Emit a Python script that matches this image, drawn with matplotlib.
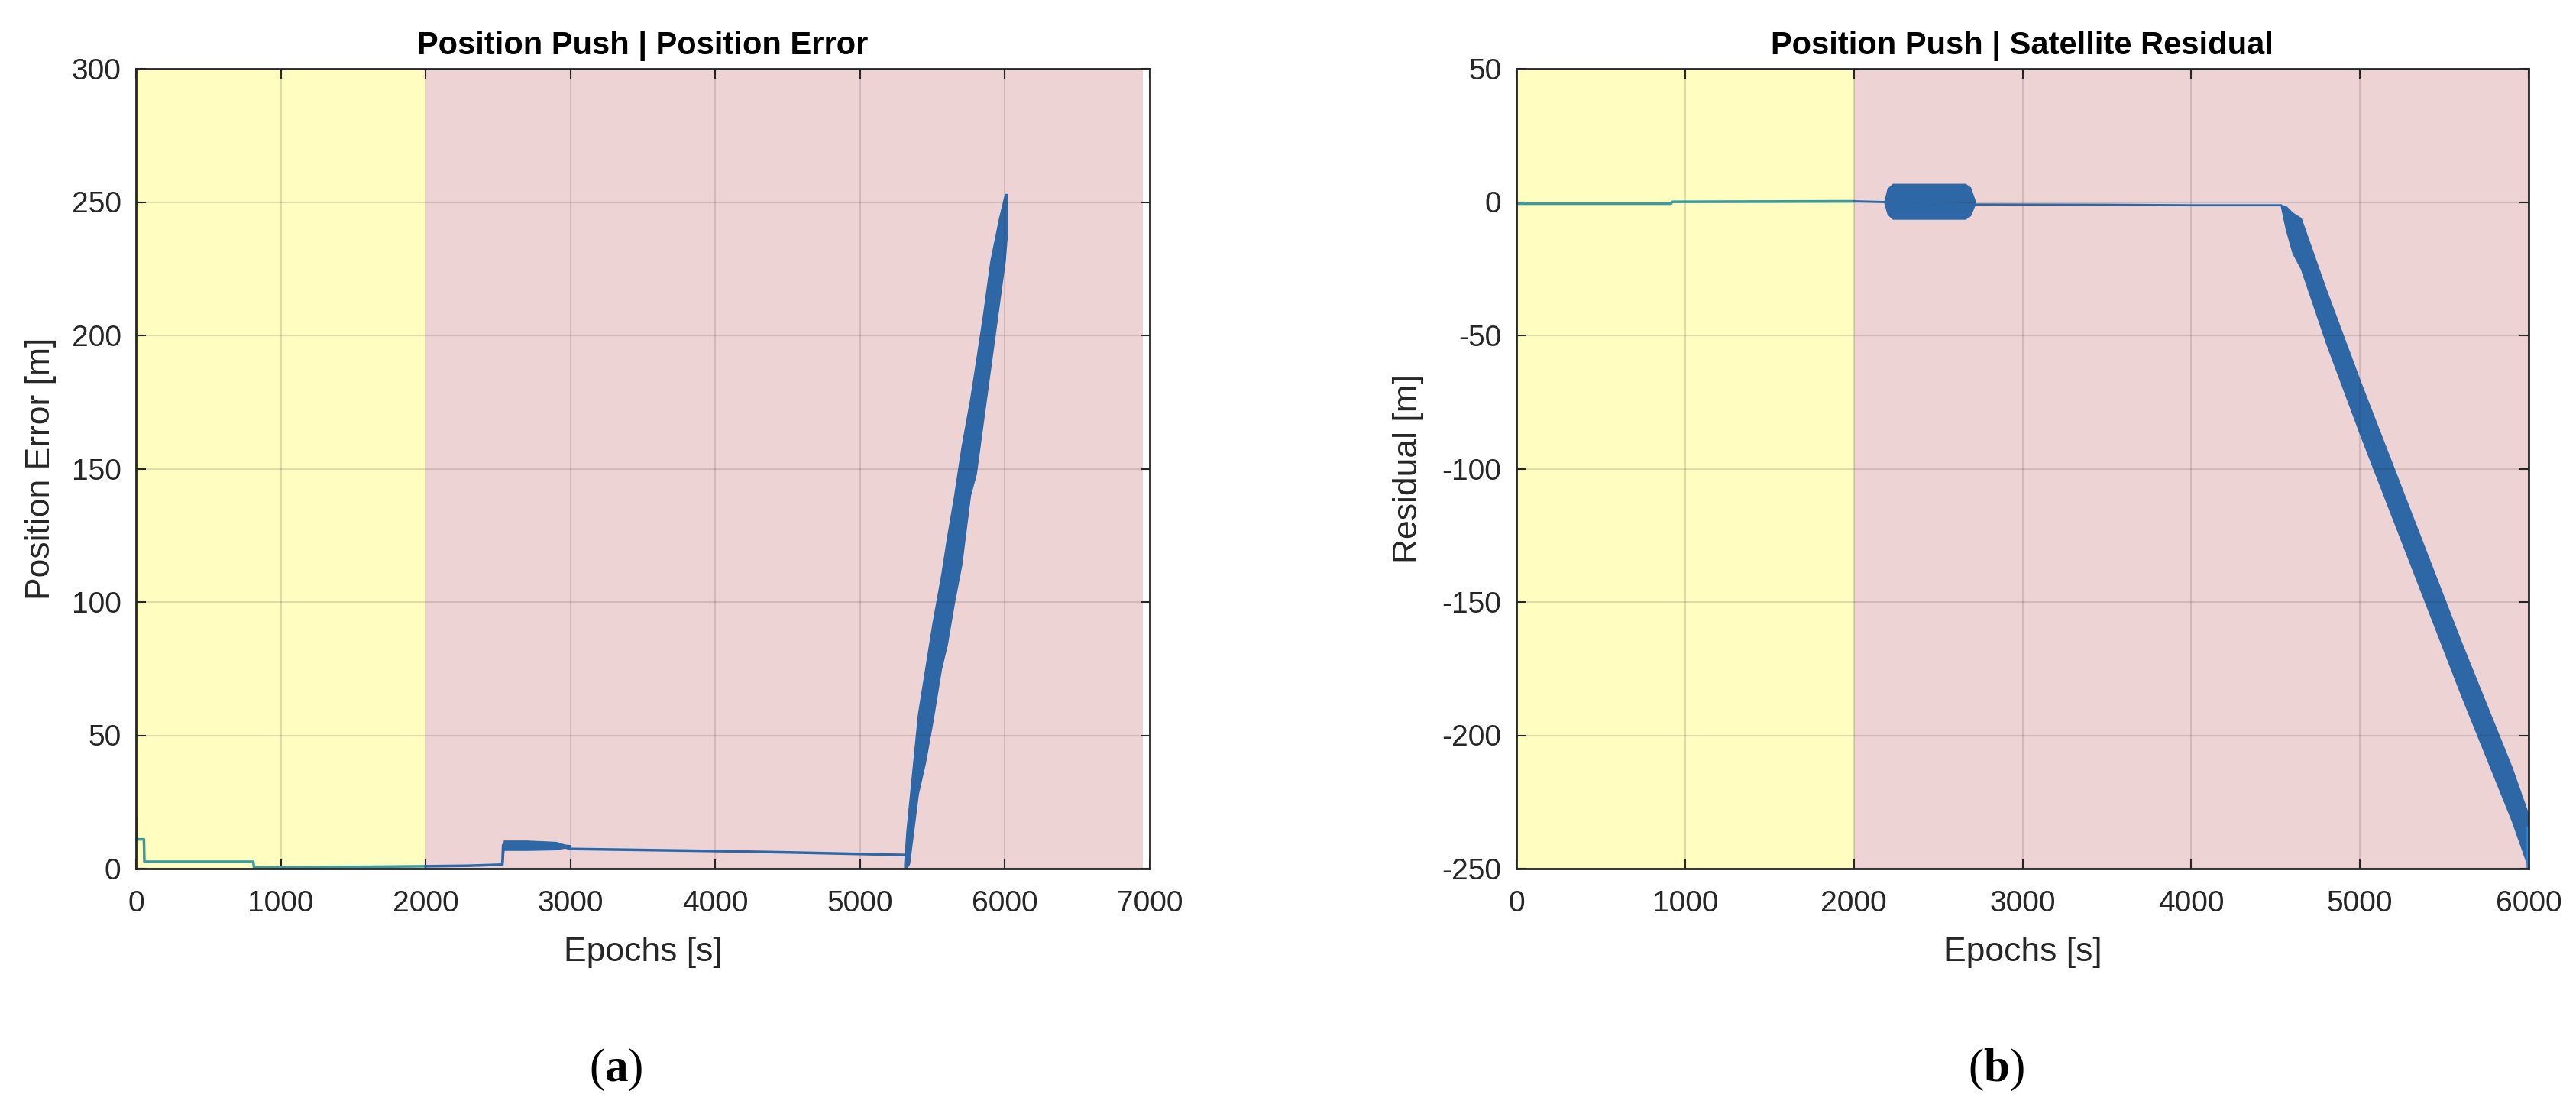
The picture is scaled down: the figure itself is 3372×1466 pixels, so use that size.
import numpy as np
import matplotlib.pyplot as plt

plt.rcParams['font.family'] = ['Liberation Sans', 'DejaVu Sans']
plt.rcParams['axes.unicode_minus'] = False
plt.rcParams['mathtext.fontset'] = 'custom'
plt.rcParams['mathtext.rm'] = 'Liberation Serif'
plt.rcParams['mathtext.bf'] = 'Liberation Serif:bold'

# ---- (a) Position error [m] vs epochs [s] ----
# thin trace while in the yellow (nominal) phase
err_t1 = np.array([0, 0, 5, 55, 58, 810, 815, 1200, 1600, 2000])
err_v1 = np.array([19, 11, 11, 11, 2.6, 2.6, 0.4, 0.5, 0.7, 0.9])
# thin trace in the pink (attack) phase
err_t2 = np.array([2000, 2300, 2530, 2535, 2950, 3000, 3500, 4000, 4500, 5000, 5320, 5330])
err_v2 = np.array([0.9, 1.1, 1.5, 8.8, 8.3, 7.4, 7.0, 6.6, 6.1, 5.5, 5.1, 1.5])
# noisy envelope right after the jump
jump_t = np.array([2530, 2540, 2700, 2900, 2960, 3000])
jump_lo = np.array([1.5, 7.0, 7.0, 7.2, 7.8, 7.6])
jump_hi = np.array([1.5, 10.5, 10.5, 10.0, 9.0, 8.8])
# noisy envelope of the ramp
ramp_t = np.array([5305, 5320, 5340, 5400, 5450, 5500, 5560, 5600, 5650, 5700, 5760, 5800, 5850, 5900, 5960, 6000, 6015])
ramp_lo = np.array([0.5, 0, 2, 28, 40, 55, 75, 84, 100, 114, 140, 148, 168, 188, 212, 228, 238])
ramp_hi = np.array([2, 14, 25, 58, 75, 92, 110, 124, 140, 158, 176, 190, 208, 228, 244, 253, 253])

# ---- (b) Satellite residual [m] vs epochs [s] ----
res_t1 = np.array([0, 915, 925, 1500, 2000])
res_v1 = np.array([-0.6, -0.6, 0.1, 0.2, 0.3])
res_t2 = np.array([2000, 2190, 2710, 3500, 4000, 4530])
res_v2 = np.array([0.3, 0.0, -0.9, -1.0, -1.2, -1.2])
# oscillation burst
burst_t = np.array([2180, 2200, 2230, 2660, 2690, 2720])
burst_lo = np.array([0, -4.5, -6.3, -6.3, -5.0, -0.5])
burst_hi = np.array([0, 5.0, 6.8, 6.8, 5.5, 0])
# drift band
drift_t = np.array([4530, 4560, 4600, 4650, 4800, 5000, 5300, 5600, 5900, 6000])
drift_hi = np.array([-1, -1.5, -4, -6, -33, -67, -116, -165, -212, -230])
drift_lo = np.array([-1, -10, -19, -25, -53, -87, -136, -185, -232, -250])

yellow = '#FFFDC0'
pink = '#EED3D4'
c_teal = '#3d9a9f'
c_blue = '#2e67a5'
c_light = '#1a8fe8'
dark = '#262626'

fig = plt.figure(figsize=(33.72, 14.66), dpi=100)
ax1 = fig.add_axes([178 / 3372, 329 / 1466, 1327 / 3372, 1047 / 1466])
ax2 = fig.add_axes([1985 / 3372, 329 / 1466, 1325 / 3372, 1047 / 1466])

# left panel
ax1.axvspan(0, 2000, color=yellow, lw=0, zorder=0)
ax1.axvspan(2000, 6950, color=pink, lw=0, zorder=0)
ax1.plot(err_t1[:2], err_v1[:2], color=c_light, lw=3)
ax1.plot(err_t1[1:], err_v1[1:], color=c_teal, lw=2.5)
ax1.plot(err_t2, err_v2, color=c_blue, lw=2.5)
ax1.fill_between(jump_t, jump_lo, jump_hi, color=c_blue, lw=1)
ax1.fill_between(ramp_t, ramp_lo, ramp_hi, color=c_blue, lw=1)
ax1.set_xlim(0, 7000)
ax1.set_ylim(0, 300)
ax1.set_xticks(np.arange(0, 7001, 1000))
ax1.set_yticks(np.arange(0, 301, 50))
ax1.set_title('Position Push | Position Error', fontsize=30, fontweight='bold', pad=14)
ax1.set_xlabel('Epochs [s]', fontsize=32, color=dark, va='center')
ax1.set_ylabel('Position Error [m]', fontsize=32, color=dark, va='center')
ax1.xaxis.set_label_coords(0.5, -0.105)
ax1.yaxis.set_label_coords(-0.094, 0.5)

# right panel
ax2.axvspan(0, 2000, color=yellow, lw=0, zorder=0)
ax2.axvspan(2000, 6000, color=pink, lw=0, zorder=0)
ax2.plot(res_t1, res_v1, color=c_teal, lw=2.5)
ax2.plot(res_t2, res_v2, color=c_blue, lw=2)
ax2.fill_between(burst_t, burst_lo, burst_hi, color=c_blue, lw=1)
ax2.fill_between(drift_t, drift_lo, drift_hi, color=c_blue, lw=1)
ax2.plot([6000, 6000], [-235, -249], color=c_light, lw=4)
ax2.set_xlim(0, 6000)
ax2.set_ylim(-250, 50)
ax2.set_xticks(np.arange(0, 6001, 1000))
ax2.set_yticks(np.arange(-250, 51, 50))
ax2.set_title('Position Push | Satellite Residual', fontsize=30, fontweight='bold', pad=14)
ax2.set_xlabel('Epochs [s]', fontsize=32, color=dark, va='center')
ax2.set_ylabel('Residual [m]', fontsize=32, color=dark, va='center')
ax2.xaxis.set_label_coords(0.5, -0.105)
ax2.yaxis.set_label_coords(-0.107, 0.5)

for ax in (ax1, ax2):
    ax.grid(True, color=dark, alpha=0.15, lw=1.5)
    ax.tick_params(direction='in', length=9, width=1.5, top=True, right=True,
                   labelsize=28, colors=dark)
    ax.tick_params(axis='x', pad=20)
    ax.tick_params(axis='y', pad=14)
    for s in ax.spines.values():
        s.set_color(dark)
        s.set_linewidth(2)

fig.text(806 / 3372, 1 - 1400 / 1466, r'$\mathrm{(}\mathbf{a}\mathrm{)}$', fontsize=44,
         ha='center', va='center')
fig.text(2613 / 3372, 1 - 1400 / 1466, r'$\mathrm{(}\mathbf{b}\mathrm{)}$', fontsize=44,
         ha='center', va='center')

fig.savefig('out.png', dpi=100, facecolor='white')
